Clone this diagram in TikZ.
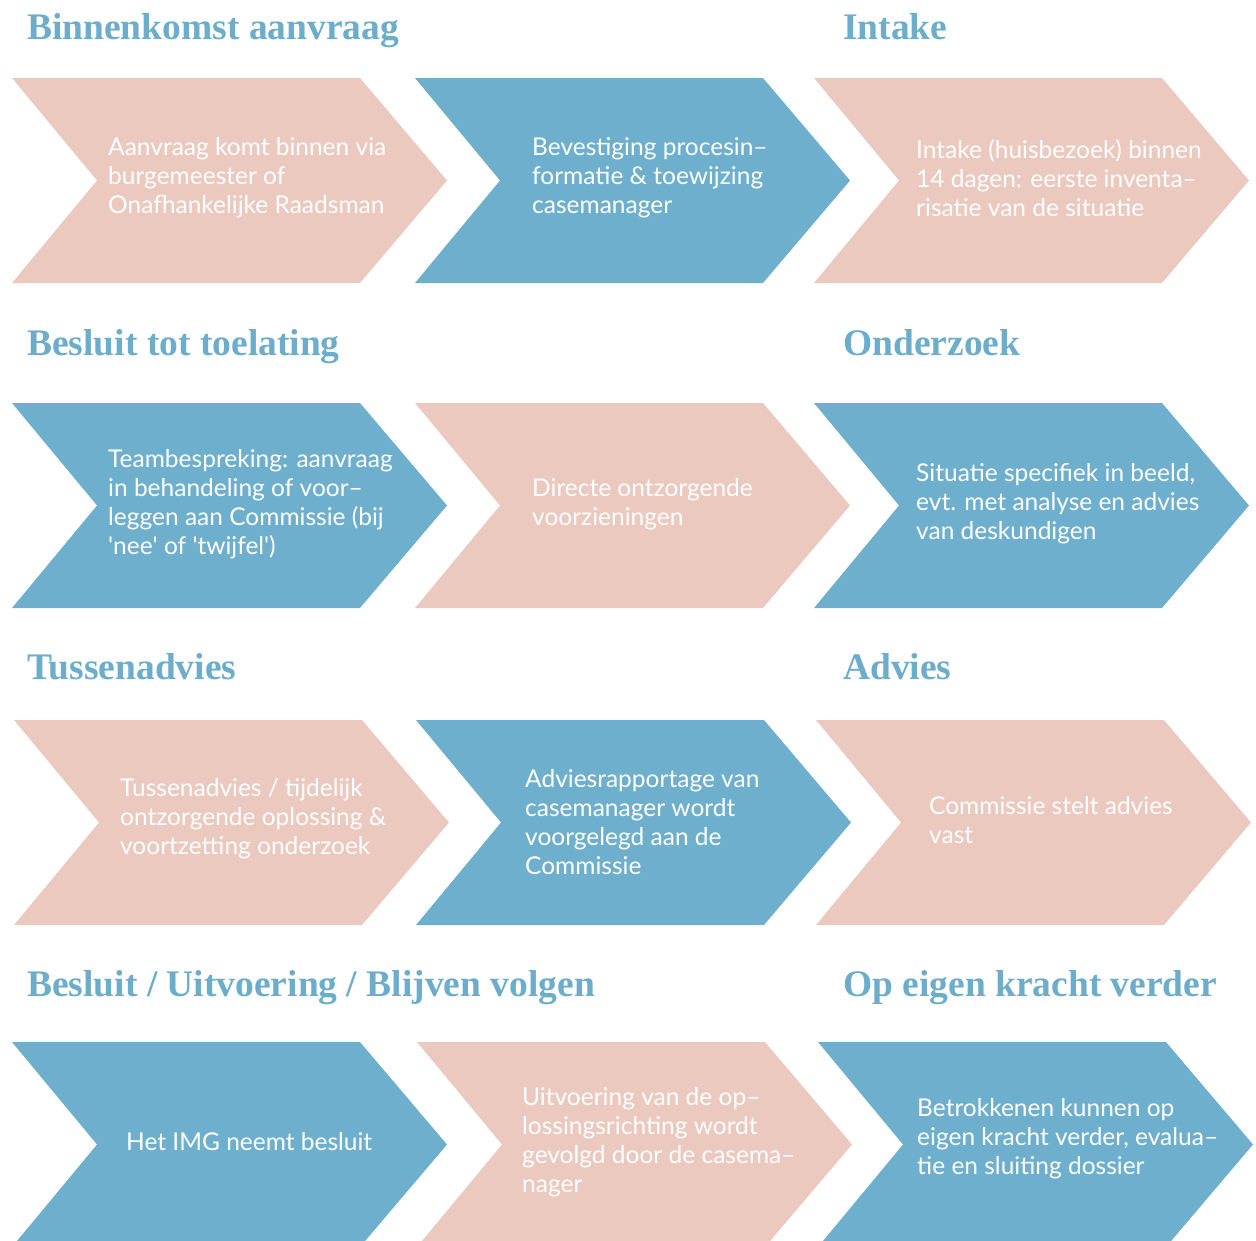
\documentclass[tikz,border=0pt]{standalone}
\usepackage{fontspec}
\setmainfont{Lato}
\newfontfamily\kopfont{Liberation Serif}
\usepackage{xcolor}
\definecolor{roze}{HTML}{EBC9BF}
\definecolor{blauw}{HTML}{6EAFCD}
\definecolor{kopblauw}{HTML}{6BADCB}
\tikzset{
  pijl/.pic={\path[pic actions] (0,0) -- (348,0) -- (435,102.5) -- (348,205) -- (0,205) -- (85,102.5) -- cycle;},
  kop/.style={anchor=base west, inner sep=0pt, text=kopblauw, font=\kopfont\bfseries\fontsize{37.5}{40}\selectfont},
  tekst/.style={anchor=west, inner sep=0pt, align=left, text=white, font=\fontsize{24.5}{29}\selectfont}
}

\begin{document}
\begin{tikzpicture}[x=1pt, y=-1pt]
    \useasboundingbox (0,0) rectangle (1256,1240);

    % Rij 1
    \node[kop] (k1) at (27,39) {Binnenkomst aanvraag};
    \node[kop] (k2) at (843,39) {Intake};
    \path pic[fill=roze] at (12,78) {pijl};
    \path pic[fill=blauw] at (415,78) {pijl};
    \path pic[fill=roze] at (814,78) {pijl};
    \node[tekst] (t11) at (108,178) {Aanvraag komt binnen via\\burgemeester of\\Onafhankelijke Raadsman};
    \node[tekst] (t12) at (532,178) {Bevestiging procesin--\\formatie \& toewijzing\\casemanager};
    \node[tekst] (t13) at (916,178) {Intake (huisbezoek) binnen\\14 dagen: eerste inventa--\\risatie van de situatie};

    % Rij 2
    \node[kop] (k3) at (27,355) {Besluit tot toelating};
    \node[kop] (k4) at (843,355) {Onderzoek};
    \path pic[fill=blauw] at (12,403) {pijl};
    \path pic[fill=roze] at (415,403) {pijl};
    \path pic[fill=blauw] at (814,403) {pijl};
    \node[tekst] (t21) at (108,504) {Teambespreking: aanvraag\\in behandeling of voor--\\leggen aan Commissie (bij\\\textquotesingle nee\textquotesingle{} of \textquotesingle twijfel\textquotesingle)};
    \node[tekst] (t22) at (532,504) {Directe ontzorgende\\voorzieningen};
    \node[tekst] (t23) at (916,504) {Situatie specifiek in beeld,\\evt. met analyse en advies\\van deskundigen};

    % Rij 3
    \node[kop] (k5) at (27,679) {Tussenadvies};
    \node[kop] (k6) at (843,679) {Advies};
    \path pic[fill=roze] at (14,720) {pijl};
    \path pic[fill=blauw] at (416,720) {pijl};
    \path pic[fill=roze] at (816,720) {pijl};
    \node[tekst] (t31) at (120,819) {Tussenadvies / tijdelijk\\ontzorgende oplossing \&\\voortzetting onderzoek};
    \node[tekst] (t32) at (525,822) {Adviesrapportage van\\casemanager wordt\\voorgelegd aan de\\Commissie};
    \node[tekst] (t33) at (929,820) {Commissie stelt advies\\vast};

    % Rij 4
    \node[kop] (k7) at (27,996) {Besluit / Uitvoering / Blijven volgen};
    \node[kop] (k8) at (843,996) {Op eigen kracht verder};
    \path pic[fill=blauw] at (12,1042) {pijl};
    \path pic[fill=roze] at (417,1042) {pijl};
    \path pic[fill=blauw] at (818,1042) {pijl};
    \node[tekst] (t41) at (126,1142) {Het IMG neemt besluit};
    \node[tekst] (t42) at (522,1142) {Uitvoering van de op--\\lossingsrichting wordt\\gevolgd door de casema--\\nager};
    \node[tekst] (t43) at (917,1139) {Betrokkenen kunnen op\\eigen kracht verder, evalua--\\tie en sluiting dossier};
\end{tikzpicture}
\end{document}
